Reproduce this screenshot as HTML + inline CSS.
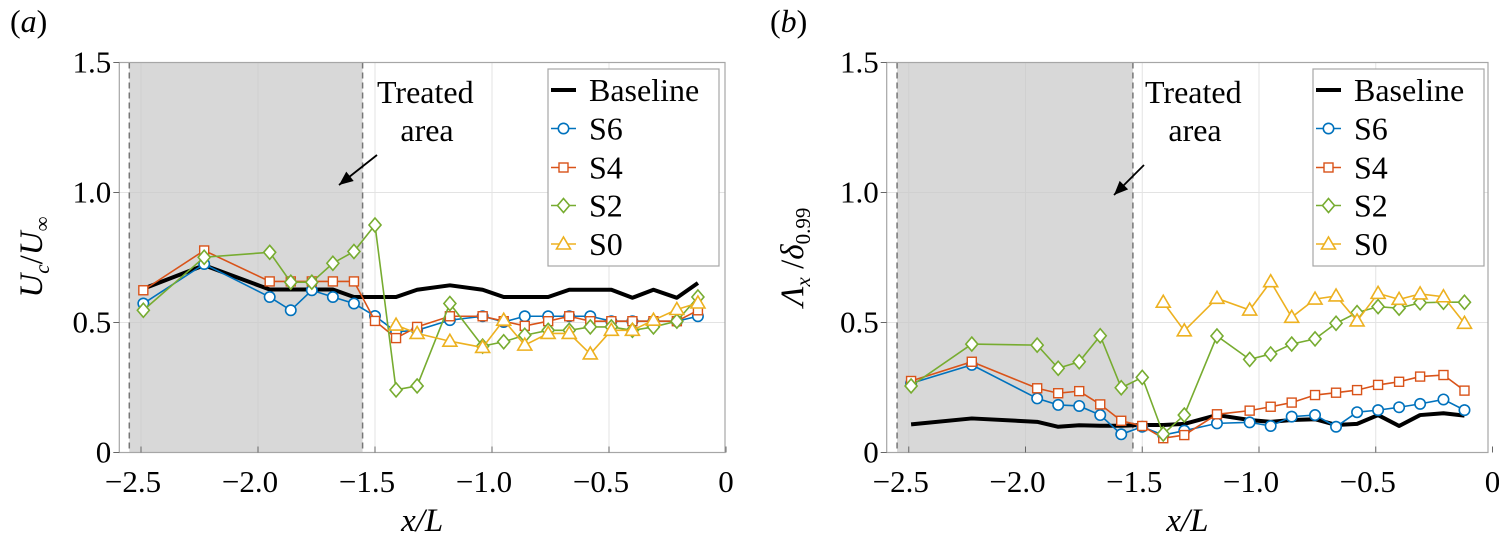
<!DOCTYPE html>
<html><head><meta charset="utf-8">
<style>
html,body{margin:0;padding:0;background:#fff;}
svg, svg text{font-family:"Liberation Serif","Times New Roman","DejaVu Serif",serif;}
</style></head>
<body>
<svg id="chart" width="1499" height="543" viewBox="0 0 1499 543" xmlns="http://www.w3.org/2000/svg" font-family="Liberation Serif, Times New Roman, serif"></svg>
<script>
// ---- shared data ----
const xPos = [-2.49,-2.23,-1.95,-1.86,-1.77,-1.68,-1.59,-1.50,-1.41,-1.32,-1.18,-1.04,-0.95,-0.86,-0.76,-0.67,-0.58,-0.49,-0.40,-0.31,-0.21,-0.12];
const xTicks = [-2.5,-2.0,-1.5,-1.0,-0.5,0];
const xTickLabels = ["\u22122.5","\u22122.0","\u22121.5","\u22121.0","\u22120.5","0"];
const yTicks = [0,0.5,1.0,1.5];
const yTickLabels = ["0","0.5","1.0","1.5"];
const seriesNames = ["Baseline","S6","S4","S2","S0"];
// ---- panel (a) U_c/U_inf ----
const aBaseline = [0.63,0.72,0.627,0.627,0.627,0.627,0.598,0.598,0.598,0.626,0.643,0.626,0.598,0.598,0.598,0.626,0.626,0.626,0.595,0.626,0.595,0.652];
const aS6 = [0.573,0.725,0.598,0.547,0.624,0.598,0.573,0.525,0.464,0.47,0.509,0.524,0.502,0.524,0.524,0.524,0.524,0.505,0.505,0.505,0.505,0.524];
const aS4 = [0.624,0.777,0.658,0.658,0.658,0.658,0.658,0.506,0.44,0.483,0.524,0.524,0.505,0.487,0.505,0.524,0.505,0.505,0.505,0.505,0.505,0.547];
const aS2 = [0.547,0.751,0.77,0.655,0.655,0.728,0.773,0.875,0.241,0.256,0.573,0.409,0.426,0.451,0.47,0.47,0.483,0.483,0.47,0.483,0.505,0.598];
const aS0 = [null,null,null,null,null,null,null,null,0.49,0.458,0.428,0.404,0.509,0.413,0.458,0.458,0.379,0.47,0.47,0.509,0.55,0.575];
// ---- panel (b) Lambda_x/delta ----
const bBaseline = [0.108,0.131,0.118,0.099,0.105,0.103,0.103,0.106,0.106,0.11,0.144,0.125,0.118,0.125,0.128,0.106,0.11,0.144,0.102,0.144,0.151,0.142];
const bS6 = [0.266,0.337,0.208,0.183,0.179,0.144,0.07,0.099,0.067,0.084,0.112,0.116,0.102,0.138,0.144,0.099,0.155,0.163,0.174,0.187,0.204,0.163];
const bS4 = [0.275,0.349,0.247,0.228,0.236,0.185,0.122,0.102,0.055,0.067,0.147,0.161,0.176,0.192,0.221,0.23,0.24,0.26,0.272,0.292,0.298,0.238];
const bS2 = [0.256,0.417,0.413,0.324,0.349,0.449,0.249,0.289,0.071,0.144,0.448,0.358,0.379,0.417,0.437,0.497,0.538,0.561,0.555,0.576,0.578,0.578];
const bS0 = [null,null,null,null,null,null,null,null,0.578,0.468,0.593,0.548,0.657,0.52,0.59,0.602,0.506,0.612,0.589,0.61,0.599,0.497];

const svg = document.getElementById('chart');
const NS = 'http://www.w3.org/2000/svg';
const FF = 'Liberation Serif, Times New Roman, serif';
function mk(tag, attrs, parent){
  const e = document.createElementNS(NS, tag);
  for (const k in attrs) e.setAttribute(k, attrs[k]);
  if (tag==='text') e.setAttribute('font-family', FF);
  (parent||svg).appendChild(e);
  return e;
}
const COLORS = {S6:'#0072BD',S4:'#D95319',S2:'#77AC30',S0:'#EDB120'};

function marker(g, type, cx, cy, color){
  let m;
  if (type==='o') m = mk('circle',{cx:cx,cy:cy,r:5.2,fill:'#fff',stroke:color,'stroke-width':1.6},g);
  else if (type==='s') m = mk('rect',{x:cx-4.5,y:cy-4.5,width:9,height:9,fill:'#fff',stroke:color,'stroke-width':1.4},g);
  else if (type==='d') m = mk('polygon',{points:`${cx},${cy-7} ${cx+6},${cy} ${cx},${cy+7} ${cx-6},${cy}`,fill:'#fff',stroke:color,'stroke-width':1.6},g);
  else m = mk('polygon',{points:`${cx},${cy-7} ${cx+7},${cy+5} ${cx-7},${cy+5}`,fill:'#fff',stroke:color,'stroke-width':1.6},g);
  return m;
}

function panel(opt){
  const L = opt.left, R = opt.right, T = 62.5, B = 452.5;
  const x0 = opt.x0px, sx = opt.sx;
  const X = v => x0 + v*sx;
  const Y = v => B - v*260;
  const g = mk('g',{});
  
  
  xTicks.forEach(t=>{ if (X(t)<R-1) { const l=mk('line',{x1:X(t),x2:X(t),y1:T,y2:B,stroke:'#e3e3e3','stroke-width':1},g);   }});
  yTicks.forEach(t=>{ const l=mk('line',{x1:L,x2:R,y1:Y(t),y2:Y(t),stroke:'#e3e3e3','stroke-width':1},g);   });
  const sh = mk('rect',{x:X(opt.shade[0]),y:T,width:X(opt.shade[1])-X(opt.shade[0]),height:B-T,fill:'#c8c8c8','fill-opacity':0.7},g);
  
  
  opt.shade.forEach(s=>{ const d=mk('line',{x1:X(s),x2:X(s),y1:T,y2:B,stroke:'#777','stroke-width':1.5,'stroke-dasharray':'6,4'},g);   });
  const box = mk('rect',{x:L,y:T,width:R-L,height:B-T,fill:'none',stroke:'#a6a6a6','stroke-width':1.2},g);
  
  
  xTicks.forEach((t,i)=>{
    mk('line',{x1:X(t),x2:X(t),y1:B,y2:B-6,stroke:'#666','stroke-width':1},g);
    const tx = mk('text',{x:X(t)-(t<0?8:0),y:492,'font-size':31,'text-anchor':'middle',fill:'#000'},g);
    tx.textContent = xTickLabels[i];
    
    
  });
  yTicks.forEach((t,i)=>{
    mk('line',{x1:L-6,x2:L,y1:Y(t),y2:Y(t),stroke:'#666','stroke-width':1},g);
    const tx = mk('text',{x:L-8,y:Y(t)+10,'font-size':31,'text-anchor':'end',fill:'#000'},g);
    tx.textContent = yTickLabels[i];
    
    
  });
  const defs = [['S6','o',opt.s6],['S4','s',opt.s4],['S2','d',opt.s2],['S0','^',opt.s0]];
  let pts = opt.base.map((v,i)=>X(xPos[i])+','+Y(v)).join(' ');
  const bl = mk('polyline',{points:pts,fill:'none',stroke:'#000','stroke-width':4,'stroke-linejoin':'round'},g);
  
  
  defs.forEach(([nm,mt,arr])=>{
    const sg = mk('g',{},g);
    
    
    const p = [];
    arr.forEach((v,i)=>{ if(v!==null) p.push(X(xPos[i])+','+Y(v)); });
    mk('polyline',{points:p.join(' '),fill:'none',stroke:COLORS[nm],'stroke-width':1.6},sg);
    arr.forEach((v,i)=>{ if(v!==null){ const m = marker(sg,mt,X(xPos[i]),Y(v),COLORS[nm]);
      
       }});
  });
  const ann = mk('g',{},g);
  
  
  const t1 = mk('text',{x:opt.annX,y:103,'font-size':32,fill:'#000'},ann); t1.textContent='Treated';
  const t2 = mk('text',{x:opt.annX+50,y:141,'font-size':32,'text-anchor':'middle',fill:'#000'},ann); t2.textContent='area';
  const [ax1,ay1,ax2,ay2] = opt.arrow;
  mk('line',{x1:ax1,y1:ay1,x2:ax2,y2:ay2,stroke:'#000','stroke-width':1.8},ann);
  const ang = Math.atan2(ay2-ay1,ax2-ax1), hl=14, hw=6;
  const bx = ax2-hl*Math.cos(ang), by = ay2-hl*Math.sin(ang);
  mk('polygon',{points:`${ax2},${ay2} ${bx-hw*Math.sin(ang)},${by+hw*Math.cos(ang)} ${bx+hw*Math.sin(ang)},${by-hw*Math.cos(ang)}`,fill:'#000'},ann);
  const lg = mk('g',{},g);
  
  
  const lx = opt.legX;
  mk('rect',{x:lx,y:69,width:171,height:197,fill:'#fff',stroke:'#a6a6a6','stroke-width':1.2},lg);
  const ly = [90,128.5,167.5,205.5,244];
  seriesNames.forEach((nm,i)=>{
    const e = mk('g',{},lg);
    
    
    if (i===0) mk('line',{x1:lx+3,x2:lx+28,y1:ly[i],y2:ly[i],stroke:'#000','stroke-width':4},e);
    else { mk('line',{x1:lx+3,x2:lx+28,y1:ly[i],y2:ly[i],stroke:COLORS[nm],'stroke-width':1.4},e);
      marker(e,['o','s','d','^'][i-1],lx+15.5,ly[i],COLORS[nm]); }
    const tx = mk('text',{x:lx+41,y:ly[i]+11,'font-size':32,fill:'#000'},e); tx.textContent = nm;
  });
  const xt = mk('text',{x:(L+R)/2,y:531,'font-size':33,'text-anchor':'middle','font-style':'italic',fill:'#000'},g);
  xt.textContent = 'x/L';
  
  
  const yt = mk('text',{x:0,y:0,'font-size':33,'text-anchor':'middle','font-style':'italic',fill:'#000',transform:`translate(${opt.ytX},257) rotate(-90)`},g);
  yt.innerHTML = opt.ytitle;
  
  
  const pl = mk('text',{x:opt.plX,y:32,'font-size':32,fill:'#000'},g);
  pl.innerHTML = opt.plabel;
  
  
}

panel({name:'panel-a',left:119.3,right:725,x0px:726,sx:234,shade:[-2.55,-1.553],
  base:aBaseline,s6:aS6,s4:aS4,s2:aS2,s0:aS0,annX:377,arrow:[377,155,339,185],legX:548,
  ytX:42,ytitle:'U<tspan font-size="21" dy="7">c</tspan><tspan dy="-7" font-style="normal">/</tspan>U<tspan font-size="21" dy="7" font-style="normal">\u221e</tspan>',
  plX:10,plabel:'<tspan font-style="normal">(</tspan><tspan font-style="italic">a</tspan><tspan font-style="normal">)</tspan>'});
panel({name:'panel-b',left:886.7,right:1488,x0px:1492.5,sx:233.5,shade:[-2.55,-1.54],
  base:bBaseline,s6:bS6,s4:bS4,s2:bS2,s0:bS0,annX:1145,arrow:[1144,165,1114,195],legX:1313,
  ytX:803,ytitle:'\u039B<tspan font-size="21" dy="7">x</tspan><tspan dy="-7" font-style="normal"> /</tspan>\u03B4<tspan font-size="21" dy="7" font-style="normal">0.99</tspan>',
  plX:770,plabel:'<tspan font-style="normal">(</tspan><tspan font-style="italic">b</tspan><tspan font-style="normal">)</tspan>'});
</script>
</body></html>
